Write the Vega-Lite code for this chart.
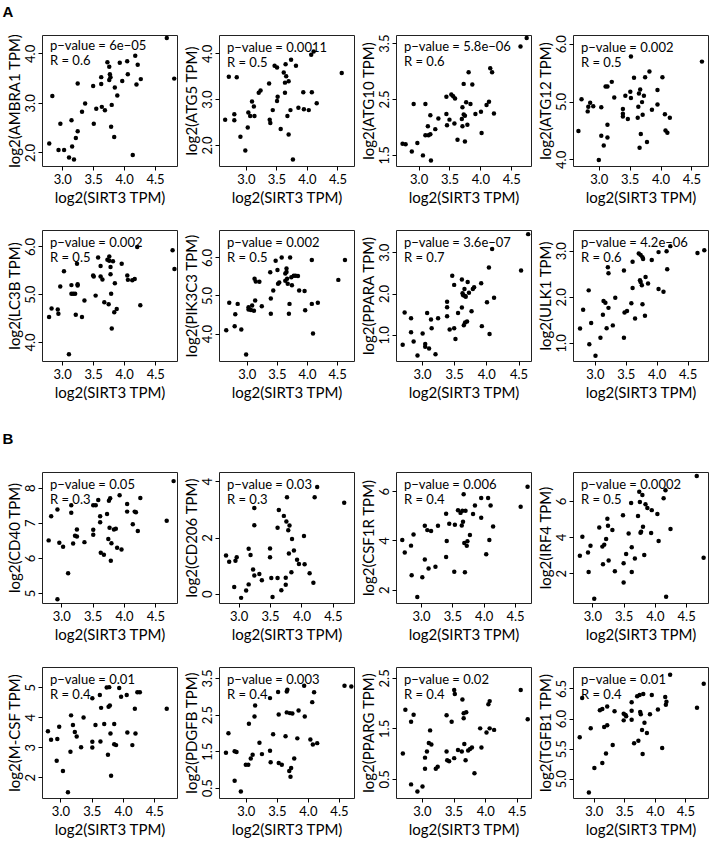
{
"$schema": "https://vega.github.io/schema/vega-lite/v6.json",
"padding": {"left": 2, "top": 4, "right": 0, "bottom": 0},
"background": "white",
"datasets": {
"AMBRA1": [{"sirt3":2.79,"expr":2.18},{"sirt3":2.84,"expr":3.14},{"sirt3":2.94,"expr":2.05},{"sirt3":2.97,"expr":2.58},{"sirt3":3.03,"expr":2.05},{"sirt3":3.11,"expr":1.90},{"sirt3":3.15,"expr":2.65},{"sirt3":3.16,"expr":2.12},{"sirt3":3.19,"expr":1.86},{"sirt3":3.22,"expr":2.29},{"sirt3":3.25,"expr":2.43},{"sirt3":3.25,"expr":3.39},{"sirt3":3.32,"expr":2.82},{"sirt3":3.37,"expr":2.99},{"sirt3":3.50,"expr":3.34},{"sirt3":3.51,"expr":2.58},{"sirt3":3.55,"expr":2.88},{"sirt3":3.63,"expr":3.52},{"sirt3":3.63,"expr":3.38},{"sirt3":3.64,"expr":2.92},{"sirt3":3.69,"expr":2.85},{"sirt3":3.73,"expr":3.82},{"sirt3":3.76,"expr":3.73},{"sirt3":3.77,"expr":3.58},{"sirt3":3.76,"expr":3.46},{"sirt3":3.78,"expr":3.52},{"sirt3":3.80,"expr":2.96},{"sirt3":3.79,"expr":2.52},{"sirt3":3.84,"expr":2.31},{"sirt3":3.85,"expr":3.31},{"sirt3":3.89,"expr":3.15},{"sirt3":3.93,"expr":3.81},{"sirt3":3.97,"expr":3.44},{"sirt3":4.05,"expr":3.84},{"sirt3":4.06,"expr":3.58},{"sirt3":4.14,"expr":1.95},{"sirt3":4.18,"expr":3.95},{"sirt3":4.20,"expr":3.37},{"sirt3":4.22,"expr":3.77},{"sirt3":4.27,"expr":3.48},{"sirt3":4.69,"expr":4.31},{"sirt3":4.81,"expr":3.49}],
"ATG5": [{"sirt3":2.66,"expr":2.55},{"sirt3":2.72,"expr":3.49},{"sirt3":2.81,"expr":2.54},{"sirt3":2.81,"expr":2.67},{"sirt3":2.85,"expr":3.48},{"sirt3":2.91,"expr":2.18},{"sirt3":2.99,"expr":1.88},{"sirt3":3.03,"expr":2.38},{"sirt3":3.04,"expr":2.71},{"sirt3":3.07,"expr":2.63},{"sirt3":3.10,"expr":2.95},{"sirt3":3.13,"expr":2.84},{"sirt3":3.14,"expr":2.63},{"sirt3":3.21,"expr":3.14},{"sirt3":3.24,"expr":3.19},{"sirt3":3.38,"expr":3.34},{"sirt3":3.39,"expr":2.55},{"sirt3":3.40,"expr":2.48},{"sirt3":3.44,"expr":2.76},{"sirt3":3.47,"expr":3.73},{"sirt3":3.51,"expr":3.69},{"sirt3":3.52,"expr":3.05},{"sirt3":3.51,"expr":2.96},{"sirt3":3.57,"expr":2.35},{"sirt3":3.62,"expr":3.58},{"sirt3":3.64,"expr":3.36},{"sirt3":3.64,"expr":3.14},{"sirt3":3.66,"expr":3.50},{"sirt3":3.65,"expr":3.76},{"sirt3":3.68,"expr":2.63},{"sirt3":3.70,"expr":3.39},{"sirt3":3.70,"expr":2.23},{"sirt3":3.73,"expr":2.76},{"sirt3":3.74,"expr":3.86},{"sirt3":3.77,"expr":1.68},{"sirt3":3.82,"expr":3.73},{"sirt3":3.86,"expr":2.81},{"sirt3":3.94,"expr":3.15},{"sirt3":3.95,"expr":2.78},{"sirt3":4.03,"expr":2.76},{"sirt3":4.07,"expr":3.97},{"sirt3":4.11,"expr":4.04},{"sirt3":4.08,"expr":3.15},{"sirt3":4.16,"expr":2.91},{"sirt3":4.57,"expr":3.57}],
"ATG10": [{"sirt3":4.75,"expr":3.59},{"sirt3":4.65,"expr":3.44},{"sirt3":2.74,"expr":1.70},{"sirt3":2.79,"expr":1.69},{"sirt3":2.89,"expr":1.56},{"sirt3":2.98,"expr":1.71},{"sirt3":2.92,"expr":2.41},{"sirt3":3.07,"expr":1.49},{"sirt3":3.20,"expr":1.40},{"sirt3":3.11,"expr":2.41},{"sirt3":3.11,"expr":1.85},{"sirt3":3.15,"expr":2.01},{"sirt3":3.16,"expr":1.85},{"sirt3":3.19,"expr":1.87},{"sirt3":3.19,"expr":2.21},{"sirt3":3.27,"expr":1.96},{"sirt3":3.32,"expr":2.15},{"sirt3":3.45,"expr":2.54},{"sirt3":3.45,"expr":2.23},{"sirt3":3.46,"expr":2.03},{"sirt3":3.50,"expr":2.13},{"sirt3":3.53,"expr":2.58},{"sirt3":3.56,"expr":2.55},{"sirt3":3.59,"expr":2.51},{"sirt3":3.58,"expr":2.06},{"sirt3":3.63,"expr":1.77},{"sirt3":3.70,"expr":2.14},{"sirt3":3.71,"expr":2.35},{"sirt3":3.71,"expr":2.01},{"sirt3":3.73,"expr":2.77},{"sirt3":3.73,"expr":2.22},{"sirt3":3.75,"expr":1.74},{"sirt3":3.75,"expr":2.20},{"sirt3":3.77,"expr":2.44},{"sirt3":3.79,"expr":2.04},{"sirt3":3.81,"expr":2.98},{"sirt3":3.84,"expr":2.41},{"sirt3":3.87,"expr":2.76},{"sirt3":3.92,"expr":2.23},{"sirt3":4.01,"expr":2.27},{"sirt3":4.02,"expr":1.89},{"sirt3":4.10,"expr":2.39},{"sirt3":4.14,"expr":2.45},{"sirt3":4.16,"expr":3.05},{"sirt3":4.19,"expr":2.98},{"sirt3":4.22,"expr":2.24}],
"ATG12": [{"sirt3":4.67,"expr":5.69},{"sirt3":3.52,"expr":5.78},{"sirt3":2.67,"expr":4.49},{"sirt3":2.72,"expr":5.04},{"sirt3":2.82,"expr":4.83},{"sirt3":2.83,"expr":4.91},{"sirt3":2.86,"expr":4.98},{"sirt3":2.91,"expr":4.92},{"sirt3":3.04,"expr":4.90},{"sirt3":3.00,"expr":3.99},{"sirt3":3.04,"expr":4.41},{"sirt3":3.08,"expr":4.24},{"sirt3":3.14,"expr":4.38},{"sirt3":3.14,"expr":4.60},{"sirt3":3.11,"expr":5.26},{"sirt3":3.14,"expr":5.26},{"sirt3":3.21,"expr":5.34},{"sirt3":3.25,"expr":5.07},{"sirt3":3.39,"expr":4.87},{"sirt3":3.39,"expr":4.79},{"sirt3":3.39,"expr":4.74},{"sirt3":3.43,"expr":5.10},{"sirt3":3.47,"expr":4.70},{"sirt3":3.51,"expr":5.17},{"sirt3":3.52,"expr":5.06},{"sirt3":3.57,"expr":5.41},{"sirt3":3.63,"expr":4.72},{"sirt3":3.64,"expr":4.91},{"sirt3":3.65,"expr":5.14},{"sirt3":3.67,"expr":5.21},{"sirt3":3.68,"expr":4.44},{"sirt3":3.66,"expr":4.20},{"sirt3":3.70,"expr":4.99},{"sirt3":3.71,"expr":4.77},{"sirt3":3.73,"expr":5.10},{"sirt3":3.75,"expr":5.42},{"sirt3":3.78,"expr":4.30},{"sirt3":3.82,"expr":5.52},{"sirt3":3.86,"expr":4.86},{"sirt3":3.95,"expr":4.95},{"sirt3":3.95,"expr":5.20},{"sirt3":4.03,"expr":5.42},{"sirt3":4.07,"expr":4.78},{"sirt3":4.08,"expr":4.50},{"sirt3":4.11,"expr":4.46},{"sirt3":4.15,"expr":4.72}],
"LC3B": [{"sirt3":2.79,"expr":4.52},{"sirt3":2.83,"expr":4.70},{"sirt3":2.93,"expr":4.68},{"sirt3":2.94,"expr":4.59},{"sirt3":2.97,"expr":5.16},{"sirt3":3.03,"expr":5.48},{"sirt3":3.11,"expr":3.74},{"sirt3":3.15,"expr":5.19},{"sirt3":3.15,"expr":5.01},{"sirt3":3.18,"expr":5.01},{"sirt3":3.21,"expr":5.01},{"sirt3":3.22,"expr":4.57},{"sirt3":3.24,"expr":5.64},{"sirt3":3.25,"expr":5.21},{"sirt3":3.25,"expr":5.18},{"sirt3":3.32,"expr":4.52},{"sirt3":3.36,"expr":4.87},{"sirt3":3.50,"expr":5.39},{"sirt3":3.51,"expr":5.37},{"sirt3":3.54,"expr":4.97},{"sirt3":3.58,"expr":5.77},{"sirt3":3.62,"expr":5.59},{"sirt3":3.62,"expr":5.37},{"sirt3":3.65,"expr":5.31},{"sirt3":3.68,"expr":4.83},{"sirt3":3.73,"expr":5.72},{"sirt3":3.76,"expr":5.79},{"sirt3":3.76,"expr":5.70},{"sirt3":3.75,"expr":4.79},{"sirt3":3.78,"expr":5.57},{"sirt3":3.78,"expr":5.42},{"sirt3":3.79,"expr":5.01},{"sirt3":3.80,"expr":4.28},{"sirt3":3.82,"expr":5.69},{"sirt3":3.84,"expr":4.62},{"sirt3":3.85,"expr":5.23},{"sirt3":3.88,"expr":4.69},{"sirt3":3.96,"expr":5.64},{"sirt3":4.05,"expr":5.39},{"sirt3":4.06,"expr":5.30},{"sirt3":4.13,"expr":5.29},{"sirt3":4.17,"expr":5.32},{"sirt3":4.21,"expr":5.99},{"sirt3":4.26,"expr":4.77},{"sirt3":4.78,"expr":5.92},{"sirt3":4.81,"expr":5.53}],
"PIK3C3": [{"sirt3":2.66,"expr":4.09},{"sirt3":2.71,"expr":4.81},{"sirt3":2.80,"expr":4.19},{"sirt3":2.81,"expr":4.51},{"sirt3":2.85,"expr":4.78},{"sirt3":2.91,"expr":4.11},{"sirt3":2.99,"expr":3.45},{"sirt3":3.03,"expr":4.63},{"sirt3":3.03,"expr":4.69},{"sirt3":3.07,"expr":4.62},{"sirt3":3.09,"expr":4.74},{"sirt3":3.12,"expr":4.60},{"sirt3":3.14,"expr":4.87},{"sirt3":3.13,"expr":5.44},{"sirt3":3.15,"expr":5.37},{"sirt3":3.21,"expr":5.36},{"sirt3":3.25,"expr":4.72},{"sirt3":3.39,"expr":5.61},{"sirt3":3.40,"expr":4.92},{"sirt3":3.40,"expr":4.52},{"sirt3":3.44,"expr":5.13},{"sirt3":3.48,"expr":5.91},{"sirt3":3.51,"expr":5.67},{"sirt3":3.52,"expr":5.31},{"sirt3":3.54,"expr":5.34},{"sirt3":3.58,"expr":6.00},{"sirt3":3.64,"expr":5.58},{"sirt3":3.64,"expr":5.39},{"sirt3":3.66,"expr":5.62},{"sirt3":3.66,"expr":5.71},{"sirt3":3.67,"expr":5.44},{"sirt3":3.68,"expr":5.31},{"sirt3":3.70,"expr":4.52},{"sirt3":3.71,"expr":4.78},{"sirt3":3.72,"expr":6.00},{"sirt3":3.74,"expr":5.48},{"sirt3":3.75,"expr":5.27},{"sirt3":3.78,"expr":5.52},{"sirt3":3.81,"expr":5.52},{"sirt3":3.85,"expr":5.51},{"sirt3":3.87,"expr":5.13},{"sirt3":3.96,"expr":5.12},{"sirt3":3.97,"expr":4.61},{"sirt3":4.08,"expr":4.78},{"sirt3":4.08,"expr":5.93},{"sirt3":4.10,"expr":4.00},{"sirt3":4.18,"expr":4.81},{"sirt3":4.52,"expr":5.41},{"sirt3":4.63,"expr":5.93}],
"PPARA": [{"sirt3":4.65,"expr":3.44},{"sirt3":4.54,"expr":2.56},{"sirt3":4.09,"expr":3.08},{"sirt3":4.04,"expr":2.63},{"sirt3":2.70,"expr":0.76},{"sirt3":2.73,"expr":1.54},{"sirt3":2.83,"expr":1.40},{"sirt3":2.83,"expr":1.06},{"sirt3":2.87,"expr":0.84},{"sirt3":2.93,"expr":0.50},{"sirt3":3.01,"expr":1.03},{"sirt3":3.05,"expr":0.78},{"sirt3":3.05,"expr":0.71},{"sirt3":3.08,"expr":1.53},{"sirt3":3.11,"expr":0.67},{"sirt3":3.14,"expr":1.37},{"sirt3":3.15,"expr":1.16},{"sirt3":3.21,"expr":0.53},{"sirt3":3.25,"expr":1.40},{"sirt3":3.39,"expr":1.80},{"sirt3":3.39,"expr":1.67},{"sirt3":3.39,"expr":1.45},{"sirt3":3.43,"expr":1.13},{"sirt3":3.47,"expr":2.43},{"sirt3":3.50,"expr":2.21},{"sirt3":3.50,"expr":1.16},{"sirt3":3.52,"expr":0.90},{"sirt3":3.56,"expr":1.53},{"sirt3":3.62,"expr":2.34},{"sirt3":3.62,"expr":1.66},{"sirt3":3.63,"expr":2.01},{"sirt3":3.64,"expr":1.96},{"sirt3":3.66,"expr":2.11},{"sirt3":3.67,"expr":1.94},{"sirt3":3.68,"expr":1.92},{"sirt3":3.65,"expr":1.23},{"sirt3":3.67,"expr":1.30},{"sirt3":3.70,"expr":1.32},{"sirt3":3.71,"expr":2.28},{"sirt3":3.73,"expr":2.02},{"sirt3":3.77,"expr":1.57},{"sirt3":3.79,"expr":2.11},{"sirt3":3.81,"expr":2.15},{"sirt3":3.92,"expr":2.25},{"sirt3":3.93,"expr":1.21},{"sirt3":4.01,"expr":1.79},{"sirt3":4.05,"expr":1.02},{"sirt3":4.12,"expr":1.90}],
"ULK1": [{"sirt3":2.76,"expr":1.31},{"sirt3":2.81,"expr":1.72},{"sirt3":2.90,"expr":2.14},{"sirt3":2.91,"expr":0.97},{"sirt3":2.94,"expr":1.43},{"sirt3":3.01,"expr":0.72},{"sirt3":3.09,"expr":1.11},{"sirt3":3.13,"expr":1.61},{"sirt3":3.14,"expr":1.91},{"sirt3":3.17,"expr":1.87},{"sirt3":3.19,"expr":1.32},{"sirt3":3.21,"expr":2.64},{"sirt3":3.22,"expr":2.51},{"sirt3":3.22,"expr":1.76},{"sirt3":3.29,"expr":1.38},{"sirt3":3.33,"expr":1.98},{"sirt3":3.47,"expr":2.57},{"sirt3":3.47,"expr":1.11},{"sirt3":3.48,"expr":1.66},{"sirt3":3.52,"expr":1.69},{"sirt3":3.59,"expr":1.86},{"sirt3":3.61,"expr":2.76},{"sirt3":3.61,"expr":2.19},{"sirt3":3.65,"expr":1.53},{"sirt3":3.71,"expr":2.94},{"sirt3":3.73,"expr":2.36},{"sirt3":3.74,"expr":2.91},{"sirt3":3.74,"expr":2.32},{"sirt3":3.76,"expr":2.25},{"sirt3":3.77,"expr":2.86},{"sirt3":3.78,"expr":2.82},{"sirt3":3.77,"expr":1.84},{"sirt3":3.81,"expr":1.59},{"sirt3":3.82,"expr":2.43},{"sirt3":3.86,"expr":2.29},{"sirt3":3.92,"expr":2.80},{"sirt3":4.03,"expr":2.97},{"sirt3":4.03,"expr":2.17},{"sirt3":4.11,"expr":2.11},{"sirt3":4.16,"expr":2.99},{"sirt3":4.17,"expr":2.60},{"sirt3":4.22,"expr":3.10},{"sirt3":4.66,"expr":2.95},{"sirt3":4.77,"expr":3.01}],
"CD40": [{"sirt3":4.79,"expr":8.19},{"sirt3":4.68,"expr":7.06},{"sirt3":2.80,"expr":6.50},{"sirt3":2.84,"expr":7.19},{"sirt3":2.94,"expr":7.38},{"sirt3":2.94,"expr":4.82},{"sirt3":2.97,"expr":6.43},{"sirt3":3.03,"expr":6.32},{"sirt3":3.11,"expr":5.56},{"sirt3":3.16,"expr":7.50},{"sirt3":3.16,"expr":7.29},{"sirt3":3.19,"expr":6.41},{"sirt3":3.22,"expr":6.63},{"sirt3":3.25,"expr":6.61},{"sirt3":3.25,"expr":6.81},{"sirt3":3.37,"expr":6.45},{"sirt3":3.51,"expr":7.50},{"sirt3":3.55,"expr":7.50},{"sirt3":3.51,"expr":6.80},{"sirt3":3.51,"expr":6.66},{"sirt3":3.59,"expr":7.65},{"sirt3":3.62,"expr":7.19},{"sirt3":3.62,"expr":7.02},{"sirt3":3.63,"expr":6.15},{"sirt3":3.68,"expr":6.09},{"sirt3":3.73,"expr":7.25},{"sirt3":3.75,"expr":6.54},{"sirt3":3.76,"expr":7.63},{"sirt3":3.78,"expr":7.70},{"sirt3":3.77,"expr":6.86},{"sirt3":3.80,"expr":6.42},{"sirt3":3.79,"expr":5.92},{"sirt3":3.84,"expr":6.81},{"sirt3":3.87,"expr":6.83},{"sirt3":3.89,"expr":6.29},{"sirt3":3.93,"expr":7.79},{"sirt3":3.96,"expr":6.24},{"sirt3":4.05,"expr":7.54},{"sirt3":4.05,"expr":7.32},{"sirt3":4.14,"expr":6.96},{"sirt3":4.17,"expr":7.32},{"sirt3":4.19,"expr":7.30},{"sirt3":4.22,"expr":6.77},{"sirt3":4.26,"expr":7.71}],
"CD206": [{"sirt3":2.80,"expr":1.36},{"sirt3":2.85,"expr":1.14},{"sirt3":2.95,"expr":1.17},{"sirt3":2.97,"expr":1.30},{"sirt3":2.93,"expr":0.24},{"sirt3":3.04,"expr":-0.15},{"sirt3":3.12,"expr":0.11},{"sirt3":3.16,"expr":0.33},{"sirt3":3.16,"expr":1.60},{"sirt3":3.19,"expr":1.38},{"sirt3":3.23,"expr":0.86},{"sirt3":3.25,"expr":3.05},{"sirt3":3.25,"expr":2.44},{"sirt3":3.25,"expr":0.65},{"sirt3":3.33,"expr":0.70},{"sirt3":3.37,"expr":0.48},{"sirt3":3.50,"expr":1.61},{"sirt3":3.50,"expr":1.30},{"sirt3":3.52,"expr":0.56},{"sirt3":3.54,"expr":-0.12},{"sirt3":3.62,"expr":2.35},{"sirt3":3.64,"expr":2.98},{"sirt3":3.62,"expr":0.56},{"sirt3":3.68,"expr":0.12},{"sirt3":3.72,"expr":2.77},{"sirt3":3.76,"expr":2.57},{"sirt3":3.77,"expr":3.43},{"sirt3":3.75,"expr":0.57},{"sirt3":3.75,"expr":0.32},{"sirt3":3.79,"expr":2.26},{"sirt3":3.81,"expr":2.43},{"sirt3":3.80,"expr":1.43},{"sirt3":3.84,"expr":0.76},{"sirt3":3.85,"expr":1.95},{"sirt3":3.88,"expr":1.54},{"sirt3":3.93,"expr":1.21},{"sirt3":3.96,"expr":1.06},{"sirt3":4.04,"expr":2.05},{"sirt3":4.05,"expr":1.05},{"sirt3":4.13,"expr":0.73},{"sirt3":4.19,"expr":0.39},{"sirt3":4.21,"expr":3.43},{"sirt3":4.25,"expr":3.80},{"sirt3":4.68,"expr":3.24}],
"CSF1R": [{"sirt3":4.70,"expr":6.18},{"sirt3":4.59,"expr":5.37},{"sirt3":2.70,"expr":4.02},{"sirt3":2.74,"expr":3.51},{"sirt3":2.84,"expr":3.79},{"sirt3":2.85,"expr":2.59},{"sirt3":2.88,"expr":4.24},{"sirt3":2.94,"expr":1.70},{"sirt3":3.02,"expr":2.51},{"sirt3":3.06,"expr":4.60},{"sirt3":3.06,"expr":3.23},{"sirt3":3.10,"expr":4.42},{"sirt3":3.12,"expr":2.86},{"sirt3":3.16,"expr":4.38},{"sirt3":3.23,"expr":2.93},{"sirt3":3.27,"expr":4.60},{"sirt3":3.40,"expr":5.08},{"sirt3":3.41,"expr":3.98},{"sirt3":3.40,"expr":3.33},{"sirt3":3.45,"expr":4.68},{"sirt3":3.53,"expr":2.73},{"sirt3":3.54,"expr":4.64},{"sirt3":3.59,"expr":5.23},{"sirt3":3.63,"expr":5.12},{"sirt3":3.65,"expr":4.61},{"sirt3":3.66,"expr":5.21},{"sirt3":3.68,"expr":5.88},{"sirt3":3.67,"expr":4.76},{"sirt3":3.69,"expr":3.90},{"sirt3":3.70,"expr":2.71},{"sirt3":3.71,"expr":5.21},{"sirt3":3.73,"expr":3.78},{"sirt3":3.74,"expr":3.97},{"sirt3":3.78,"expr":4.22},{"sirt3":3.83,"expr":5.07},{"sirt3":3.86,"expr":5.42},{"sirt3":3.96,"expr":4.92},{"sirt3":3.96,"expr":5.72},{"sirt3":4.04,"expr":3.44},{"sirt3":4.07,"expr":5.72},{"sirt3":4.09,"expr":4.02},{"sirt3":4.11,"expr":5.42},{"sirt3":4.15,"expr":4.57}],
"IRF4": [{"sirt3":4.67,"expr":7.38},{"sirt3":4.78,"expr":2.86},{"sirt3":2.80,"expr":2.97},{"sirt3":2.84,"expr":4.02},{"sirt3":2.93,"expr":3.14},{"sirt3":2.94,"expr":2.07},{"sirt3":2.97,"expr":3.52},{"sirt3":3.03,"expr":0.59},{"sirt3":3.11,"expr":4.53},{"sirt3":3.16,"expr":3.47},{"sirt3":3.17,"expr":2.50},{"sirt3":3.19,"expr":3.58},{"sirt3":3.22,"expr":3.89},{"sirt3":3.24,"expr":5.01},{"sirt3":3.25,"expr":4.62},{"sirt3":3.26,"expr":2.70},{"sirt3":3.32,"expr":4.39},{"sirt3":3.36,"expr":2.11},{"sirt3":3.49,"expr":5.21},{"sirt3":3.50,"expr":2.55},{"sirt3":3.50,"expr":1.49},{"sirt3":3.54,"expr":3.06},{"sirt3":3.58,"expr":4.20},{"sirt3":3.62,"expr":5.89},{"sirt3":3.63,"expr":2.06},{"sirt3":3.63,"expr":3.43},{"sirt3":3.68,"expr":2.81},{"sirt3":3.73,"expr":5.17},{"sirt3":3.75,"expr":6.51},{"sirt3":3.76,"expr":5.94},{"sirt3":3.77,"expr":4.24},{"sirt3":3.78,"expr":4.29},{"sirt3":3.80,"expr":6.33},{"sirt3":3.81,"expr":4.57},{"sirt3":3.83,"expr":3.01},{"sirt3":3.85,"expr":5.82},{"sirt3":3.88,"expr":5.61},{"sirt3":3.94,"expr":4.22},{"sirt3":3.95,"expr":5.49},{"sirt3":4.04,"expr":5.28},{"sirt3":4.06,"expr":3.78},{"sirt3":4.14,"expr":6.15},{"sirt3":4.17,"expr":6.59},{"sirt3":4.18,"expr":0.70},{"sirt3":4.25,"expr":4.44}],
"MCSF": [{"sirt3":2.80,"expr":3.53},{"sirt3":2.85,"expr":3.25},{"sirt3":2.95,"expr":3.27},{"sirt3":2.98,"expr":3.68},{"sirt3":2.94,"expr":2.55},{"sirt3":3.04,"expr":2.21},{"sirt3":3.12,"expr":1.50},{"sirt3":3.16,"expr":2.85},{"sirt3":3.17,"expr":4.06},{"sirt3":3.20,"expr":3.74},{"sirt3":3.23,"expr":3.51},{"sirt3":3.26,"expr":3.36},{"sirt3":3.33,"expr":3.00},{"sirt3":3.37,"expr":3.99},{"sirt3":3.51,"expr":4.63},{"sirt3":3.51,"expr":3.18},{"sirt3":3.51,"expr":2.99},{"sirt3":3.56,"expr":3.74},{"sirt3":3.63,"expr":4.74},{"sirt3":3.64,"expr":3.19},{"sirt3":3.65,"expr":4.31},{"sirt3":3.70,"expr":3.77},{"sirt3":3.74,"expr":4.99},{"sirt3":3.77,"expr":4.35},{"sirt3":3.78,"expr":5.00},{"sirt3":3.79,"expr":4.39},{"sirt3":3.76,"expr":2.75},{"sirt3":3.80,"expr":3.46},{"sirt3":3.81,"expr":2.05},{"sirt3":3.86,"expr":3.77},{"sirt3":3.86,"expr":3.10},{"sirt3":3.89,"expr":3.07},{"sirt3":3.94,"expr":4.97},{"sirt3":3.97,"expr":4.68},{"sirt3":4.06,"expr":4.74},{"sirt3":4.07,"expr":3.49},{"sirt3":4.15,"expr":3.07},{"sirt3":4.19,"expr":4.28},{"sirt3":4.20,"expr":3.46},{"sirt3":4.23,"expr":4.83},{"sirt3":4.27,"expr":4.83},{"sirt3":4.70,"expr":4.28}],
"PDGFB": [{"sirt3":2.68,"expr":1.46},{"sirt3":2.72,"expr":1.99},{"sirt3":2.82,"expr":1.50},{"sirt3":2.85,"expr":1.48},{"sirt3":2.82,"expr":0.69},{"sirt3":2.92,"expr":0.40},{"sirt3":3.00,"expr":1.13},{"sirt3":3.04,"expr":1.13},{"sirt3":3.05,"expr":2.25},{"sirt3":3.08,"expr":1.30},{"sirt3":3.11,"expr":1.40},{"sirt3":3.14,"expr":2.45},{"sirt3":3.15,"expr":2.75},{"sirt3":3.22,"expr":1.73},{"sirt3":3.26,"expr":1.42},{"sirt3":3.39,"expr":2.95},{"sirt3":3.39,"expr":1.51},{"sirt3":3.40,"expr":1.20},{"sirt3":3.44,"expr":1.96},{"sirt3":3.52,"expr":3.12},{"sirt3":3.53,"expr":2.50},{"sirt3":3.53,"expr":1.18},{"sirt3":3.58,"expr":1.13},{"sirt3":3.64,"expr":1.91},{"sirt3":3.66,"expr":2.56},{"sirt3":3.66,"expr":3.13},{"sirt3":3.67,"expr":3.18},{"sirt3":3.70,"expr":0.96},{"sirt3":3.71,"expr":2.54},{"sirt3":3.72,"expr":0.80},{"sirt3":3.73,"expr":1.04},{"sirt3":3.75,"expr":2.53},{"sirt3":3.78,"expr":1.30},{"sirt3":3.83,"expr":1.85},{"sirt3":3.85,"expr":2.61},{"sirt3":3.95,"expr":2.45},{"sirt3":3.94,"expr":3.29},{"sirt3":4.04,"expr":1.82},{"sirt3":4.07,"expr":2.84},{"sirt3":4.10,"expr":3.11},{"sirt3":4.08,"expr":1.68},{"sirt3":4.15,"expr":1.72},{"sirt3":4.59,"expr":3.29},{"sirt3":4.70,"expr":3.27}],
"PPARG": [{"sirt3":4.67,"expr":1.68},{"sirt3":4.56,"expr":2.26},{"sirt3":2.70,"expr":1.00},{"sirt3":2.74,"expr":1.87},{"sirt3":2.83,"expr":1.63},{"sirt3":2.87,"expr":1.77},{"sirt3":2.83,"expr":0.39},{"sirt3":2.93,"expr":0.25},{"sirt3":3.01,"expr":0.35},{"sirt3":3.05,"expr":0.92},{"sirt3":3.05,"expr":0.70},{"sirt3":3.08,"expr":1.04},{"sirt3":3.13,"expr":1.46},{"sirt3":3.11,"expr":1.21},{"sirt3":3.15,"expr":1.18},{"sirt3":3.22,"expr":0.70},{"sirt3":3.25,"expr":0.74},{"sirt3":3.39,"expr":1.04},{"sirt3":3.39,"expr":1.76},{"sirt3":3.40,"expr":0.87},{"sirt3":3.43,"expr":0.85},{"sirt3":3.47,"expr":1.63},{"sirt3":3.51,"expr":2.26},{"sirt3":3.52,"expr":2.18},{"sirt3":3.51,"expr":0.91},{"sirt3":3.57,"expr":1.07},{"sirt3":3.64,"expr":2.07},{"sirt3":3.63,"expr":1.04},{"sirt3":3.66,"expr":1.80},{"sirt3":3.66,"expr":1.70},{"sirt3":3.67,"expr":1.19},{"sirt3":3.70,"expr":1.82},{"sirt3":3.69,"expr":0.87},{"sirt3":3.73,"expr":1.06},{"sirt3":3.76,"expr":1.09},{"sirt3":3.79,"expr":1.12},{"sirt3":3.83,"expr":0.61},{"sirt3":3.94,"expr":1.12},{"sirt3":3.92,"expr":1.50},{"sirt3":4.05,"expr":1.98},{"sirt3":4.07,"expr":2.04},{"sirt3":4.02,"expr":1.42},{"sirt3":4.07,"expr":1.50},{"sirt3":4.14,"expr":1.47}],
"TGFB1": [{"sirt3":4.25,"expr":6.73},{"sirt3":4.80,"expr":6.58},{"sirt3":4.69,"expr":6.18},{"sirt3":2.77,"expr":5.69},{"sirt3":2.81,"expr":6.34},{"sirt3":2.92,"expr":4.77},{"sirt3":2.95,"expr":5.84},{"sirt3":3.01,"expr":5.18},{"sirt3":3.10,"expr":6.14},{"sirt3":3.14,"expr":6.16},{"sirt3":3.14,"expr":5.26},{"sirt3":3.17,"expr":5.86},{"sirt3":3.20,"expr":5.42},{"sirt3":3.22,"expr":6.20},{"sirt3":3.22,"expr":5.89},{"sirt3":3.31,"expr":5.56},{"sirt3":3.34,"expr":6.12},{"sirt3":3.49,"expr":5.97},{"sirt3":3.49,"expr":6.08},{"sirt3":3.52,"expr":6.06},{"sirt3":3.53,"expr":6.04},{"sirt3":3.62,"expr":6.13},{"sirt3":3.62,"expr":5.98},{"sirt3":3.62,"expr":6.27},{"sirt3":3.66,"expr":5.59},{"sirt3":3.71,"expr":6.37},{"sirt3":3.73,"expr":5.63},{"sirt3":3.75,"expr":6.39},{"sirt3":3.76,"expr":6.11},{"sirt3":3.77,"expr":6.07},{"sirt3":3.79,"expr":5.81},{"sirt3":3.81,"expr":6.41},{"sirt3":3.80,"expr":5.41},{"sirt3":3.83,"expr":5.93},{"sirt3":3.87,"expr":5.76},{"sirt3":3.92,"expr":6.07},{"sirt3":3.95,"expr":6.39},{"sirt3":4.05,"expr":6.15},{"sirt3":4.12,"expr":5.51},{"sirt3":4.17,"expr":6.36},{"sirt3":4.18,"expr":6.23},{"sirt3":4.19,"expr":6.28}]
},
"vconcat": [
{
"title": {"text": "A", "anchor": "start", "frame": "bounds", "orient": "top", "font": "Liberation Sans", "fontSize": 15, "fontWeight": "bold", "offset": -2, "dx": -4, "baseline": "bottom", "lineHeight": 15},
"columns": 4, "bounds": "flush", "spacing": {"row": 64, "column": 42},
"concat": [
{"width":135,"height":131,"title":{"text":["p−value = 6e−05","R = 0.6"]},"data":{"name":"AMBRA1"},"mark":"circle","encoding":{"x":{"field":"sirt3","type":"quantitative","title":"log2(SIRT3 TPM)","scale":{"domain":[2.673,4.855],"nice":false,"zero":false},"axis":{"values":[3,3.5,4,4.5],"format":".1f"}},"y":{"field":"expr","type":"quantitative","title":"log2(AMBRA1 TPM)","scale":{"domain":[1.727,4.37],"nice":false,"zero":false},"axis":{"values":[2,3,4],"format":".1f"}}}},
{"width":135,"height":131,"title":{"text":["p−value = 0.0011","R = 0.5"]},"data":{"name":"ATG5"},"mark":"circle","encoding":{"x":{"field":"sirt3","type":"quantitative","title":"log2(SIRT3 TPM)","scale":{"domain":[2.559,4.771],"nice":false,"zero":false},"axis":{"values":[3,3.5,4,4.5],"format":".1f"}},"y":{"field":"expr","type":"quantitative","title":"log2(ATG5 TPM)","scale":{"domain":[1.54,4.40],"nice":false,"zero":false},"axis":{"values":[2,3,4],"format":".1f"}}}},
{"width":135,"height":131,"title":{"text":["p−value = 5.8e−06","R = 0.6"]},"data":{"name":"ATG10"},"mark":"circle","encoding":{"x":{"field":"sirt3","type":"quantitative","title":"log2(SIRT3 TPM)","scale":{"domain":[2.634,4.82],"nice":false,"zero":false},"axis":{"values":[3,3.5,4,4.5],"format":".1f"}},"y":{"field":"expr","type":"quantitative","title":"log2(ATG10 TPM)","scale":{"domain":[1.30,3.645],"nice":false,"zero":false},"axis":{"values":[1.5,2.5,3.5],"format":".1f"}}}},
{"width":135,"height":131,"title":{"text":["p−value = 0.002","R = 0.5"]},"data":{"name":"ATG12"},"mark":"circle","encoding":{"x":{"field":"sirt3","type":"quantitative","title":"log2(SIRT3 TPM)","scale":{"domain":[2.582,4.768],"nice":false,"zero":false},"axis":{"values":[3,3.5,4,4.5],"format":".1f"}},"y":{"field":"expr","type":"quantitative","title":"log2(ATG12 TPM)","scale":{"domain":[3.886,6.15],"nice":false,"zero":false},"axis":{"values":[4,5,6],"format":".1f"}}}},
{"width":135,"height":131,"title":{"text":["p−value = 0.002","R = 0.5"]},"data":{"name":"LC3B"},"mark":"circle","encoding":{"x":{"field":"sirt3","type":"quantitative","title":"log2(SIRT3 TPM)","scale":{"domain":[2.676,4.851],"nice":false,"zero":false},"axis":{"values":[3,3.5,4,4.5],"format":".1f"}},"y":{"field":"expr","type":"quantitative","title":"log2(LC3B TPM)","scale":{"domain":[3.60,6.345],"nice":false,"zero":false},"axis":{"values":[4,5,6],"format":".1f"}}}},
{"width":135,"height":131,"title":{"text":["p−value = 0.002","R = 0.5"]},"data":{"name":"PIK3C3"},"mark":"circle","encoding":{"x":{"field":"sirt3","type":"quantitative","title":"log2(SIRT3 TPM)","scale":{"domain":[2.54,4.78],"nice":false,"zero":false},"axis":{"values":[3,3.5,4,4.5],"format":".1f"}},"y":{"field":"expr","type":"quantitative","title":"log2(PIK3C3 TPM)","scale":{"domain":[3.28,6.72],"nice":false,"zero":false},"axis":{"values":[4,5,6],"format":".1f"}}}},
{"width":135,"height":131,"title":{"text":["p−value = 3.6e−07","R = 0.7"]},"data":{"name":"PPARA"},"mark":"circle","encoding":{"x":{"field":"sirt3","type":"quantitative","title":"log2(SIRT3 TPM)","scale":{"domain":[2.596,4.694],"nice":false,"zero":false},"axis":{"values":[3,3.5,4,4.5],"format":".1f"}},"y":{"field":"expr","type":"quantitative","title":"log2(PPARA TPM)","scale":{"domain":[0.365,3.54],"nice":false,"zero":false},"axis":{"values":[1,2,3],"format":".1f"}}}},
{"width":135,"height":131,"title":{"text":["p−value = 4.2e−06","R = 0.6"]},"data":{"name":"ULK1"},"mark":"circle","encoding":{"x":{"field":"sirt3","type":"quantitative","title":"log2(SIRT3 TPM)","scale":{"domain":[2.646,4.83],"nice":false,"zero":false},"axis":{"values":[3,3.5,4,4.5],"format":".1f"}},"y":{"field":"expr","type":"quantitative","title":"log2(ULK1 TPM)","scale":{"domain":[0.607,3.45],"nice":false,"zero":false},"axis":{"values":[1,2,3],"format":".1f"}}}}
]
},
{
"title": {"text": "B", "anchor": "start", "frame": "bounds", "orient": "top", "font": "Liberation Sans", "fontSize": 15, "fontWeight": "bold", "offset": 10, "dx": -4, "baseline": "bottom", "lineHeight": 15},
"columns": 4, "bounds": "flush", "spacing": {"row": 64, "column": 42},
"concat": [
{"width":135,"height":131,"title":{"text":["p−value = 0.05","R = 0.3"]},"data":{"name":"CD40"},"mark":"circle","encoding":{"x":{"field":"sirt3","type":"quantitative","title":"log2(SIRT3 TPM)","scale":{"domain":[2.694,4.844],"nice":false,"zero":false},"axis":{"values":[3,3.5,4,4.5],"format":".1f"}},"y":{"field":"expr","type":"quantitative","title":"log2(CD40 TPM)","scale":{"domain":[4.714,8.45],"nice":false,"zero":false},"axis":{"values":[5,6,7,8],"format":"d"}}}},
{"width":135,"height":131,"title":{"text":["p−value = 0.03","R = 0.3"]},"data":{"name":"CD206"},"mark":"circle","encoding":{"x":{"field":"sirt3","type":"quantitative","title":"log2(SIRT3 TPM)","scale":{"domain":[2.688,4.836],"nice":false,"zero":false},"axis":{"values":[3,3.5,4,4.5],"format":".1f"}},"y":{"field":"expr","type":"quantitative","title":"log2(CD206 TPM)","scale":{"domain":[-0.333,4.333],"nice":false,"zero":false},"axis":{"values":[0,2,4],"format":"d"}}}},
{"width":135,"height":131,"title":{"text":["p−value = 0.006","R = 0.4"]},"data":{"name":"CSF1R"},"mark":"circle","encoding":{"x":{"field":"sirt3","type":"quantitative","title":"log2(SIRT3 TPM)","scale":{"domain":[2.60,4.755],"nice":false,"zero":false},"axis":{"values":[3,3.5,4,4.5],"format":".1f"}},"y":{"field":"expr","type":"quantitative","title":"log2(CSF1R TPM)","scale":{"domain":[1.46,6.78],"nice":false,"zero":false},"axis":{"values":[2,4,6],"format":"d"}}}},
{"width":135,"height":131,"title":{"text":["p−value = 0.0002","R = 0.5"]},"data":{"name":"IRF4"},"mark":"circle","encoding":{"x":{"field":"sirt3","type":"quantitative","title":"log2(SIRT3 TPM)","scale":{"domain":[2.69,4.85],"nice":false,"zero":false},"axis":{"values":[3,3.5,4,4.5],"format":".1f"}},"y":{"field":"expr","type":"quantitative","title":"log2(IRF4 TPM)","scale":{"domain":[0.35,7.60],"nice":false,"zero":false},"axis":{"values":[2,4,6],"format":"d"}}}},
{"width":135,"height":131,"title":{"text":["p−value = 0.01","R = 0.4"]},"data":{"name":"MCSF"},"mark":"circle","encoding":{"x":{"field":"sirt3","type":"quantitative","title":"log2(SIRT3 TPM)","scale":{"domain":[2.705,4.864],"nice":false,"zero":false},"axis":{"values":[3,3.5,4,4.5],"format":".1f"}},"y":{"field":"expr","type":"quantitative","title":"log2(M-CSF TPM)","scale":{"domain":[1.31,5.67],"nice":false,"zero":false},"axis":{"values":[2,3,4,5],"format":"d"}}}},
{"width":135,"height":131,"title":{"text":["p−value = 0.003","R = 0.4"]},"data":{"name":"PDGFB"},"mark":"circle","encoding":{"x":{"field":"sirt3","type":"quantitative","title":"log2(SIRT3 TPM)","scale":{"domain":[2.568,4.743],"nice":false,"zero":false},"axis":{"values":[3,3.5,4,4.5],"format":".1f"}},"y":{"field":"expr","type":"quantitative","title":"log2(PDGFB TPM)","scale":{"domain":[0.221,3.80],"nice":false,"zero":false},"axis":{"values":[0.5,1.5,2.5,3.5],"format":".1f"}}}},
{"width":135,"height":131,"title":{"text":["p−value = 0.02","R = 0.4"]},"data":{"name":"PPARG"},"mark":"circle","encoding":{"x":{"field":"sirt3","type":"quantitative","title":"log2(SIRT3 TPM)","scale":{"domain":[2.592,4.722],"nice":false,"zero":false},"axis":{"values":[3,3.5,4,4.5],"format":".1f"}},"y":{"field":"expr","type":"quantitative","title":"log2(PPARG TPM)","scale":{"domain":[0.12,2.716],"nice":false,"zero":false},"axis":{"values":[0.5,1.5,2.5],"format":".1f"}}}},
{"width":135,"height":131,"title":{"text":["p−value = 0.01","R = 0.4"]},"data":{"name":"TGFB1"},"mark":"circle","encoding":{"x":{"field":"sirt3","type":"quantitative","title":"log2(SIRT3 TPM)","scale":{"domain":[2.66,4.87],"nice":false,"zero":false},"axis":{"values":[3,3.5,4,4.5],"format":".1f"}},"y":{"field":"expr","type":"quantitative","title":"log2(TGFB1 TPM)","scale":{"domain":[4.68,6.857],"nice":false,"zero":false},"axis":{"values":[5,5.5,6,6.5],"format":".1f"}}}}
]
}
],
"spacing": 30,
"config": {
"view": {"stroke": "#222222", "strokeWidth": 1},
"axis": {"domain": false, "grid": false, "ticks": true, "tickColor": "#000000", "tickSize": 4, "labelFont": "Lato", "labelFontSize": 13, "labelColor": "#000000", "titleFont": "Lato", "titleFontSize": 15, "titleFontWeight": "normal", "titleColor": "#000000", "labelFlush": false, "labelOverlap": false},
"axisY": {"labelAngle": -90, "labelPadding": 1, "titlePadding": 2},
"axisX": {"labelPadding": 3, "titlePadding": 4},
"circle": {"color": "#000000", "size": 20, "opacity": 1},
"title": {"anchor": "start", "frame": "group", "orient": "top", "baseline": "top", "offset": -35, "dx": 8, "font": "Lato", "fontSize": 13, "fontWeight": "normal", "color": "#000000", "lineHeight": 15}
}
}
